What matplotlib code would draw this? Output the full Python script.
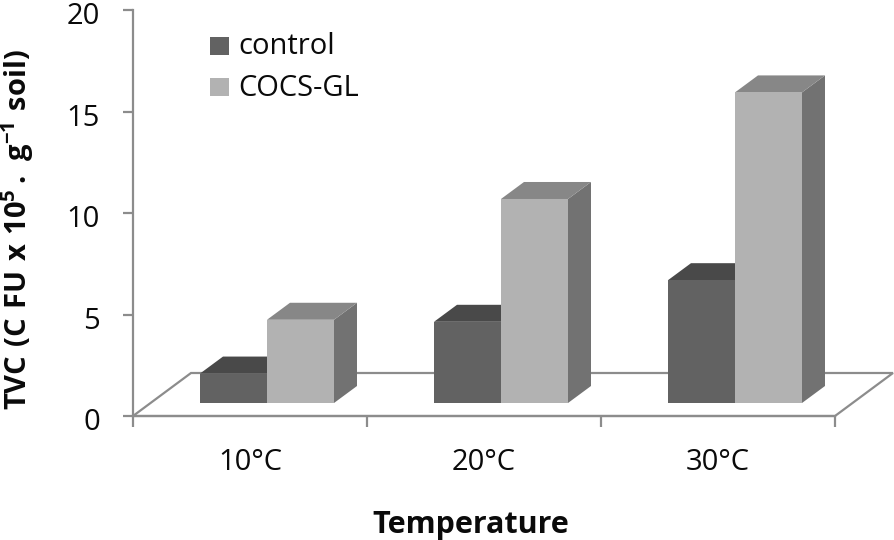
import matplotlib
matplotlib.use("Agg")
import matplotlib.pyplot as plt
from matplotlib.patches import Polygon
from matplotlib.transforms import ScaledTranslation

plt.rcParams['font.family'] = ['Open Sans', 'DejaVu Sans']
plt.rcParams['mathtext.fontset'] = 'custom'
plt.rcParams['mathtext.bf'] = 'Open Sans:bold'
plt.rcParams['mathtext.rm'] = 'Open Sans'

categories = ['10°C', '20°C', '30°C']
series_names = ['control', 'COCS-GL']
control = [1.45, 4.0, 6.05]
cocs_gl = [4.1, 10.05, 15.3]
y_ticks = [0, 5, 10, 15, 20]

W, H = 895, 540
fig = plt.figure(figsize=(W / 100, H / 100), dpi=100)
L, R, T, B = 133, 835, 10, 416
ax = fig.add_axes([L / W, 1 - B / H, (R - L) / W, (B - T) / H])
ax.set_xlim(0, len(categories))
ax.set_ylim(0, 20)
ax.patch.set_alpha(0)

px = len(categories) / (R - L)     # data x per pixel
py = 20 / (B - T)                  # data y per pixel
bar_w = 67 * px
base = 13 * py
dx, dy = 23 * px, 17 * py
floor_dx, floor_dy = 58 * px, 43 * py
line_col = '#8c8c8c'
text_col = '#0a0a0a'


def poly(pts, color, z):
    ax.add_patch(Polygon(pts, closed=True, facecolor=color, edgecolor='none',
                         zorder=z, clip_on=False))


# floor
ax.add_patch(Polygon([(0, 0), (floor_dx, floor_dy), (3 + floor_dx, floor_dy), (3, 0)],
                     closed=True, facecolor='white', edgecolor=line_col, lw=1.6,
                     zorder=1, clip_on=False))

palette = {
    'control': ('#626262', '#494949', '#4c4c4c'),
    'COCS-GL': ('#b2b2b2', '#878787', '#727272'),
}

for name, vals, offset in zip(series_names, [control, cocs_gl], [-1, 0]):
    front, top, side = palette[name]
    for i, v in enumerate(vals):
        x0 = i + 0.5 + (offset * bar_w) + 17 * px
        x1 = x0 + bar_w
        y0, y1 = base, base + v
        z = 3 + i + (offset + 1) * 0.1
        poly([(x1, y0), (x1 + dx, y0 + dy), (x1 + dx, y1 + dy), (x1, y1)], side, z)
        poly([(x0, y1), (x0 + dx, y1 + dy), (x1 + dx, y1 + dy), (x1, y1)], top, z)
        poly([(x0, y0), (x1, y0), (x1, y1), (x0, y1)], front, z + 0.01)

for s in ['top', 'right']:
    ax.spines[s].set_visible(False)
for s in ['left', 'bottom']:
    ax.spines[s].set_color(line_col)
    ax.spines[s].set_linewidth(1.6)
    ax.spines[s].set_zorder(2)

ax.set_yticks(y_ticks)
ax.set_xticks(range(len(categories) + 1))
ax.set_xticklabels([])
ax.tick_params(axis='both', color=line_col, width=1.6, labelsize=21,
               labelcolor=text_col)
ax.tick_params(axis='y', length=7.2, pad=16.5)
ax.tick_params(axis='x', direction='out', length=8)
shift = ScaledTranslation(0, -2.5 / 72, fig.dpi_scale_trans)
for lbl in ax.get_yticklabels():
    lbl.set_transform(lbl.get_transform() + shift)

for i, c in enumerate(categories):
    fig.text((L + (i + 0.5) * (R - L) / 3) / W, 1 - 462 / H, c,
             ha='center', va='center', fontsize=21, color=text_col)

fig.text(471 / W, 1 - 525 / H, 'Temperature', ha='center', va='center',
         fontsize=22, fontweight='bold', color=text_col)
fig.text(18 / W, 1 - 230 / H, r'$\mathbf{TVC\ (C\ FU\ x\ 10^{5}\,.\ g^{-1}\ soil)}$',
         rotation=90, ha='center', va='center', fontsize=21, color=text_col)

# legend
for name, y in zip(series_names, [46, 87]):
    fig.patches.append(plt.Rectangle((210 / W, 1 - (y + 9) / H), 19 / W, 18 / H,
                                     transform=fig.transFigure,
                                     facecolor=palette[name][0], edgecolor='none'))
    fig.text(238 / W, 1 - (y + 1) / H, name, ha='left', va='center', fontsize=21, color=text_col)

fig.savefig('out.png', dpi=100)
